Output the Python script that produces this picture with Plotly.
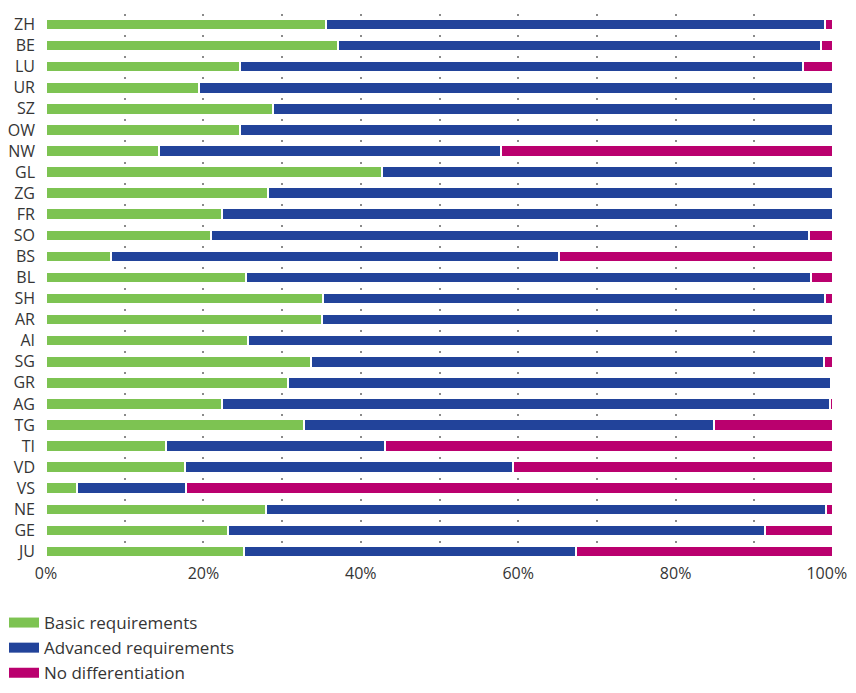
import plotly.graph_objects as go

cantons = ["ZH", "BE", "LU", "UR", "SZ", "OW", "NW", "GL", "ZG", "FR", "SO", "BS", "BL",
           "SH", "AR", "AI", "SG", "GR", "AG", "TG", "TI", "VD", "VS", "NE", "GE", "JU"]
basic = [35.6, 37.1, 24.6, 19.5, 28.8, 24.6, 14.4, 42.7, 28.2, 22.4, 21.0, 8.3, 25.4,
         35.2, 35.1, 25.7, 33.7, 30.8, 22.3, 32.8, 15.2, 17.6, 4.0, 28.0, 23.1, 25.2]
advanced = [63.4, 61.4, 71.6, 80.5, 71.2, 75.4, 43.4, 57.3, 71.8, 77.6, 76.0, 56.9, 71.8,
            63.8, 64.9, 74.3, 65.2, 69.0, 77.3, 52.1, 27.9, 41.8, 13.8, 71.1, 68.3, 42.2]
nodiff = [1.0, 1.5, 3.8, 0, 0, 0, 42.2, 0, 0, 0, 3.0, 34.8, 2.8,
          1.0, 0, 0, 1.1, 0, 0.4, 15.1, 56.9, 40.6, 82.2, 0.9, 8.6, 32.6]

series_names = ["Basic requirements", "Advanced requirements", "No differentiation"]
series_values = [basic, advanced, nodiff]
colors = ["#7DC352", "#22439A", "#BA006E"]

tick_vals = [0, 10, 20, 30, 40, 50, 60, 70, 80, 90, 100]
tick_text = ["0%", "", "20%", "", "40%", "", "60%", "", "80%", "",
             "100%\u00a0\u00a0\u00a0"]

FONT = "Open Sans"
TXT = "#353535"

fig = go.Figure()
for name, vals, col in zip(series_names, series_values, colors):
    fig.add_trace(go.Bar(
        y=cantons, x=vals, name=name, orientation="h",
        marker=dict(color=col, line=dict(color="white", width=2)),
        width=0.55, showlegend=False, hoverinfo="skip",
    ))
# legend proxies (wide rectangular swatches)
for name, col in zip(series_names, colors):
    fig.add_trace(go.Scatter(
        x=[None], y=[None], mode="lines", name=name,
        line=dict(color=col, width=10), hoverinfo="skip",
    ))

# the page body adds an 8px margin, so the figure is sized to fit inside it
W, H = 840, 677
mt, mb, ml, mr = 6, 123, 38, 15
plot_w = W - ml - mr
plot_h = H - mt - mb
pitch = plot_h / len(cantons)

fig.update_layout(
    width=W, height=H,
    barmode="stack",
    bargap=0,
    plot_bgcolor="white", paper_bgcolor="white",
    margin=dict(l=ml, r=mr, t=mt, b=mb, pad=0, autoexpand=False),
    font=dict(family=FONT, color=TXT, size=15),
    xaxis=dict(
        range=[0, 100], tickvals=tick_vals, ticktext=tick_text,
        showgrid=True, gridcolor="#8a8a8a", gridwidth=1.6,
        griddash=f"2px,{pitch - 2:.3f}px",
        zeroline=False, showline=False, ticks="",
        ticklabeloverflow="allow",
        tickfont=dict(size=16, color=TXT), fixedrange=True,
    ),
    yaxis=dict(
        autorange="reversed", showgrid=False, zeroline=False, showline=False,
        ticks="", ticklabelstandoff=10, tickfont=dict(size=16, color=TXT),
        fixedrange=True,
    ),
    legend=dict(
        xref="paper", yref="container", x=(-4 - ml) / plot_w, y=1 - 597 / H,
        xanchor="left", yanchor="top", traceorder="normal",
        font=dict(size=17, color=TXT), bgcolor="rgba(0,0,0,0)",
        tracegroupgap=0,
    ),
    showlegend=True,
)

fig.write_html("out.html")
